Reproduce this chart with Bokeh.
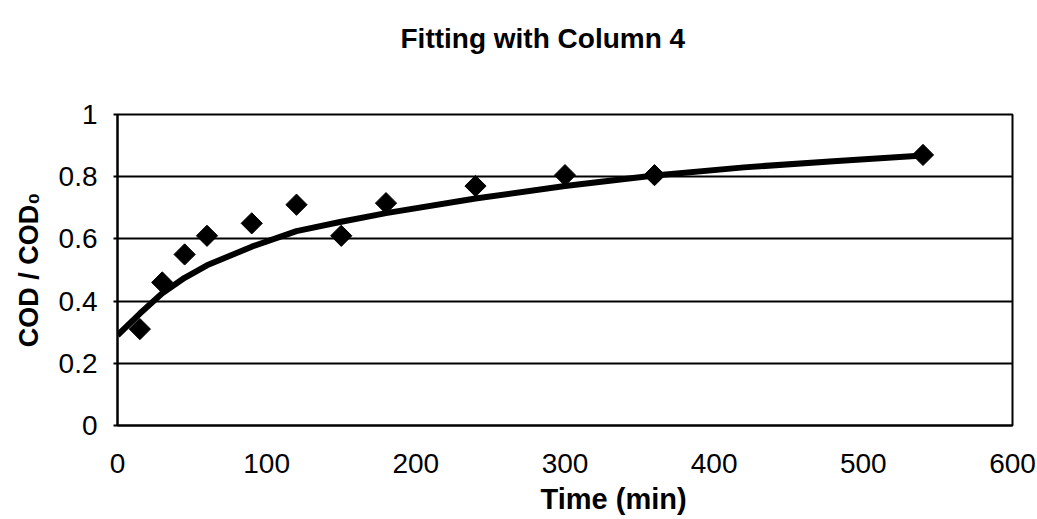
import math
from bokeh.plotting import figure
from bokeh.models import FixedTicker, Range1d, Title
from bokeh.embed import file_html
from bokeh.resources import INLINE

# measured data
time_min = [15, 30, 45, 60, 90, 120, 150, 180, 240, 300, 360, 540]
cod_ratio = [0.31, 0.46, 0.55, 0.61, 0.65, 0.71, 0.61, 0.715, 0.77, 0.805, 0.805, 0.87]

# fitted curve
fit_time = [0, 15, 30, 45, 60, 90, 120, 150, 180, 240, 300, 360, 420, 480, 540]
fit_ratio = [0.29, 0.36, 0.425, 0.475, 0.515, 0.575, 0.625, 0.655, 0.683, 0.73, 0.77, 0.804, 0.83, 0.85, 0.868]

x_ticks = [0, 100, 200, 300, 400, 500, 600]
y_ticks = [0, 0.2, 0.4, 0.6, 0.8, 1]
y_tick_labels = {0: "0", 0.2: "0.2", 0.4: "0.4", 0.6: "0.6", 0.8: "0.8", 1: "1"}

p = figure(width=1037, height=519, output_backend="svg", toolbar_location=None,
           x_range=Range1d(0, 600), y_range=Range1d(0, 1),
           min_border_left=117, min_border_right=25, min_border_top=114, min_border_bottom=93)

spacer = Title(text=" ", text_font_size="2px", standoff=57)
p.add_layout(spacer, "above")

title = Title(text="Fitting with Column 4", align="left", offset=283, standoff=0,
              text_font="Liberation Sans", text_font_size="28px", text_font_style="bold",
              text_color="black")
p.add_layout(title, "above")

xlabel = Title(text="Time (min)", align="left", offset=423, standoff=10,
               text_font="Liberation Sans", text_font_size="29px", text_font_style="bold",
               text_color="black")
p.add_layout(xlabel, "below")

p.line(fit_time, fit_ratio, line_color="black", line_width=6, line_join="round")
p.scatter(time_min, cod_ratio, marker="square", angle=math.pi / 4, size=15,
          fill_color="black", line_color="black")

p.outline_line_color = "black"
p.outline_line_width = 2

p.xgrid.grid_line_color = None
p.ygrid.grid_line_color = "black"
p.ygrid.grid_line_width = 2
p.ygrid.ticker = FixedTicker(ticks=y_ticks)

p.xaxis.ticker = FixedTicker(ticks=x_ticks)
p.yaxis.ticker = FixedTicker(ticks=y_ticks)
p.yaxis.major_label_overrides = y_tick_labels

for ax in (p.xaxis, p.yaxis):
    ax.axis_line_color = "black"
    ax.axis_line_width = 2
    ax.major_label_text_font = "Liberation Sans"
    ax.major_label_text_font_size = "28px"
    ax.major_label_text_color = "black"
    ax.minor_tick_line_color = None
    ax.axis_label_text_font = "Liberation Sans"
    ax.axis_label_text_font_size = "27px"
    ax.axis_label_text_font_style = "bold"
    ax.axis_label_text_color = "black"

p.xaxis.major_tick_line_color = None
p.xaxis.major_label_standoff = 22

p.yaxis.major_tick_line_color = "black"
p.yaxis.major_tick_line_width = 2
p.yaxis.major_tick_out = 4
p.yaxis.major_tick_in = 0
p.yaxis.major_label_standoff = 16
p.yaxis.axis_label = "COD / COD\u2080"
p.yaxis.axis_label_standoff = 12

open("out.html", "w").write(file_html(p, INLINE))
